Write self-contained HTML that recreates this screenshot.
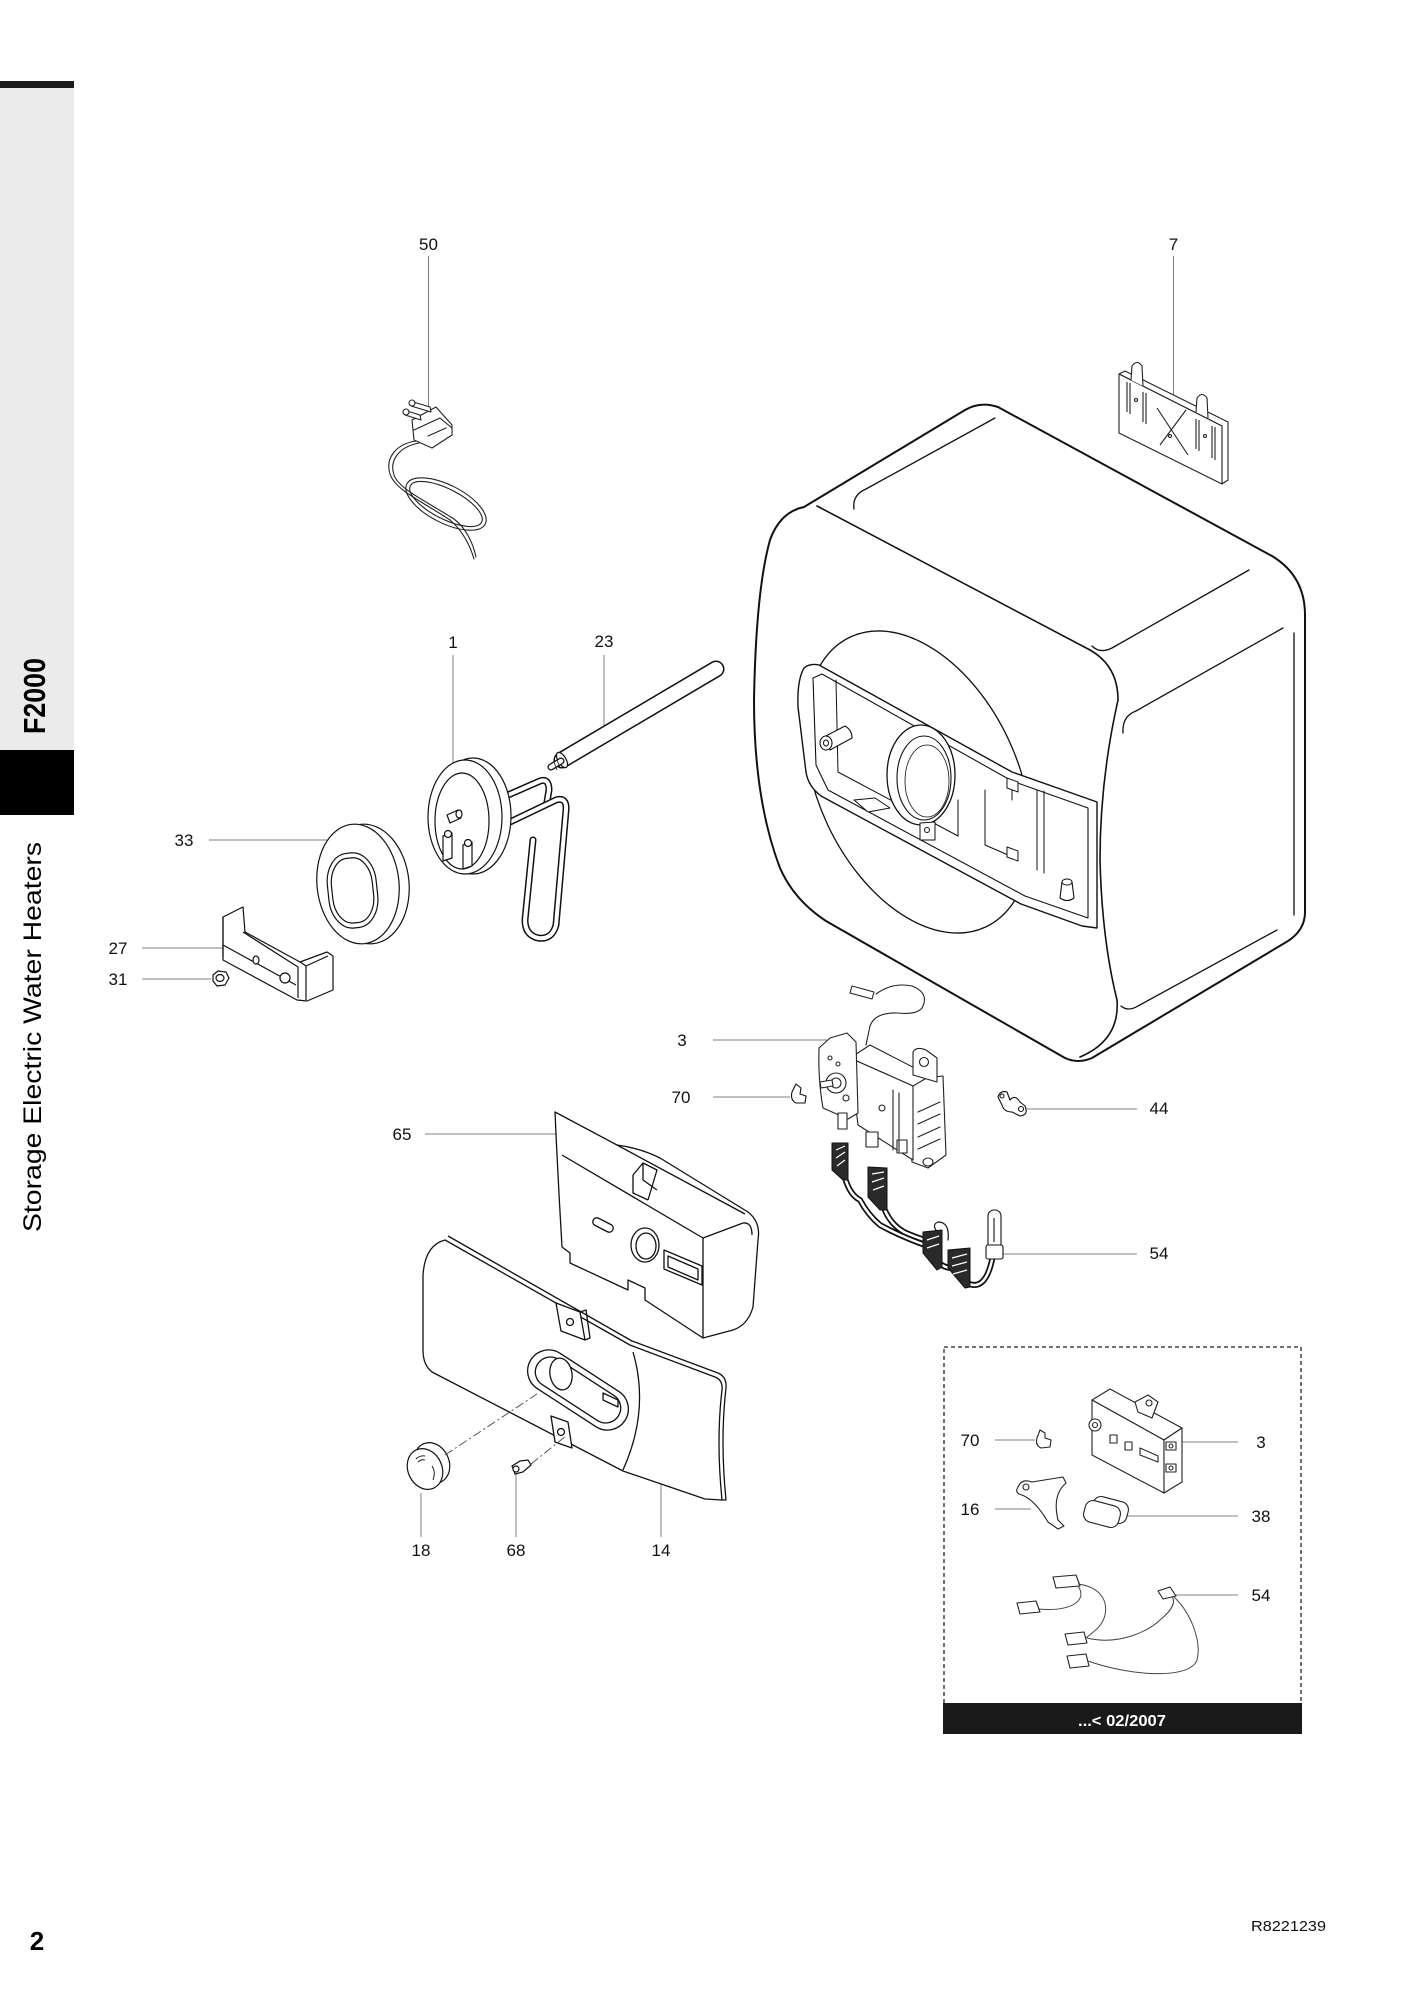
<!DOCTYPE html>
<html><head><meta charset="utf-8"><style>
html,body{margin:0;padding:0;background:#fff;}
svg{display:block}
text{font-family:"Liberation Sans",Arial,sans-serif;}
</style></head><body>
<svg width="1410" height="1994" viewBox="0 0 1410 1994" xmlns="http://www.w3.org/2000/svg">
<rect width="1410" height="1994" fill="#fff"/>

<!-- sidebar -->
<rect x="0" y="88" width="74" height="662" fill="#ebebeb"/>
<rect x="0" y="81" width="74" height="7" fill="#1a1a1a"/>
<rect x="0" y="750" width="74" height="65" fill="#000"/>
<text transform="translate(45,734) rotate(-90)" font-size="31" font-weight="bold" textLength="76" lengthAdjust="spacingAndGlyphs" fill="#000">F2000</text>
<text transform="translate(41,1232) rotate(-90)" font-size="25" textLength="390" lengthAdjust="spacingAndGlyphs" fill="#000">Storage Electric Water Heaters</text>

<!-- leader lines -->
<g stroke="#808080" stroke-width="1" fill="none">
<path d="M428.5,256V410 M1173.5,256V407 M453,655V766 M604,655V731 M209,840H333 M142,948H236 M142,979H211 M713,1040H848 M713,1097H790 M425,1134H568 M1027,1109H1137 M1002,1254H1137 M421,1493V1537 M516,1471V1537 M661,1480V1537 M995,1440H1035 M1175,1442H1238 M995,1509H1031 M1125,1516H1238 M1175,1595H1238"/>
</g>

<!-- ===== TANK ===== -->
<g stroke="#111" fill="#fff" stroke-linejoin="round" stroke-linecap="round">
<path stroke-width="2" d="M804,507 L965,410 Q980,401 998,407 L1272,556 Q1305,576 1305,615 L1305,912 Q1305,930 1288,941 L1092,1058 Q1078,1064 1065,1058 L826,921 Q794,900 780,868 Q754,800 754,700 Q756,590 770,540 Q780,512 804,507 Z"/>
<path stroke-width="1.6" fill="none" d="M817,506 L1090,650 Q1118,666 1118,700 Q1100,780 1100,860 Q1102,940 1117,1000 Q1120,1040 1080,1057"/>
<g stroke-width="1.3" fill="none">
<path d="M854,509 Q852,495 866,489 L995,418"/>
<path d="M1092,646 Q1100,654 1112,648 L1249,570"/>
<path d="M1123,733 Q1122,716 1136,711 L1283,628"/>
<path d="M1294,633 L1294,915"/>
<path d="M1121,1006 Q1128,1012 1138,1006 L1277,930"/>
</g>
<ellipse cx="918" cy="782" rx="160" ry="100" transform="rotate(65 918 782)" stroke-width="1.3" fill="none"/>
<!-- recess frame -->
<path stroke-width="1.4" d="M804,668 Q810,663 819,665 L1012,772 L1097,802 L1097,928 L1082,926 L1021,904 L821,796 Q808,786 806,772 L798,707 Q797,680 804,668 Z"/>
<path stroke-width="1.1" fill="none" d="M813,678 L822,674 L1012,781 L1088,808 L1088,918 L1025,896 L828,790 L816,765 Z"/>
<path stroke-width="1" fill="none" d="M836,680 L838,772 L958,836 M958,836 L958,800 M985,790 L985,845 L1015,858 M1037,790 L1037,870 M1044,791 L1044,873 M1012,781 L1012,800"/>
<ellipse cx="921" cy="775" rx="34" ry="50" stroke-width="1.3"/>
<ellipse cx="924" cy="778" rx="27" ry="42" stroke-width="1.1"/>
<ellipse cx="927" cy="781" rx="22" ry="36" stroke-width="0.8" fill="none"/>
<path stroke-width="1.1" d="M822,738 L845,726 Q852,730 852,738 L830,750 Z"/>
<ellipse cx="826" cy="743" rx="6" ry="7" stroke-width="1.1"/>
<ellipse cx="826" cy="743" rx="2.5" ry="3" stroke-width="1"/>
<path stroke-width="1" d="M854,800 L875,798 L890,808 L868,812 Z"/>
<path stroke-width="1" d="M920,823 L935,822 L935,840 L920,840 Z"/>
<circle cx="927" cy="830" r="2.5" stroke-width="1"/>
<path stroke-width="1" d="M1007,778 L1018,782 L1018,792 L1007,788 Z M1007,847 L1018,851 L1018,861 L1007,857 Z"/>
<path stroke-width="1.1" d="M1060,898 L1062,882 Q1067,876 1072,882 L1074,898 Q1067,903 1060,898 Z"/>
<ellipse cx="1067" cy="882" rx="5" ry="3" stroke-width="1"/>
</g>

<!-- ===== PLATE 7 ===== -->
<g stroke="#222" stroke-width="1.1" fill="#fff" stroke-linejoin="round">
<path d="M1119,374 L1125,371 L1228,422 L1228,480 L1222,484 L1222,426 Z"/>
<path d="M1119,374 L1222,426 L1222,484 L1119,433 Z"/>
<path d="M1131,380 L1132,366 Q1137,359 1142,366 L1143,386" fill="#fff"/>
<path d="M1196,412 L1197,398 Q1202,391 1207,398 L1208,418" fill="#fff"/>
<path fill="none" d="M1127,382 L1127,412 M1130,383 L1130,414 M1143,392 L1143,422 M1146,393 L1146,424 M1196,419 L1196,449 M1199,420 L1199,451 M1212,426 L1212,458 M1215,427 L1215,460 M1157,408 L1188,455 M1160,445 L1186,410"/>
<circle cx="1136" cy="400" r="1.5"/><circle cx="1205" cy="436" r="1.5"/><circle cx="1170" cy="436" r="1.5"/>
</g>

<!-- ===== PLUG 50 ===== -->
<g stroke="#222" stroke-width="1.1" fill="#fff" stroke-linejoin="round" stroke-linecap="round">
<path fill="none" d="M416,441 C396,444 385,458 390,474 C395,490 420,500 450,520 C462,530 470,545 474,559"/>
<path fill="none" d="M419,443 C399,447 389,460 394,475 C399,489 424,500 454,519 C466,528 473,543 476,557"/>
<ellipse cx="446" cy="504" rx="44" ry="19" transform="rotate(27 446 504)" fill="none"/>
<ellipse cx="446" cy="504" rx="40" ry="15" transform="rotate(27 446 504)" fill="none"/>
<path d="M412,420 L436,407 L452,425 L452,435 L432,448 L414,440 Z"/>
<path fill="none" d="M414,430 L440,418 L452,428 M428,436 L446,428"/>
<path d="M404,410 L420,415 L421,420 L405,415 Z M410,401 L430,407 L431,412 L411,406 Z"/>
<circle cx="406" cy="412" r="3"/><circle cx="412" cy="403" r="3"/>
</g>

<!-- ===== ANODE 23 ===== -->
<line x1="562" y1="760" x2="716" y2="669" stroke="#111" stroke-width="17" stroke-linecap="round"/>
<line x1="562" y1="760" x2="716" y2="669" stroke="#fff" stroke-width="14" stroke-linecap="round"/>
<ellipse cx="562" cy="760" rx="4" ry="8.5" transform="rotate(-30.7 562 760)" fill="#fff" stroke="#111" stroke-width="1.2"/>
<line x1="551" y1="767" x2="561" y2="761" stroke="#111" stroke-width="7" stroke-linecap="round"/>
<line x1="551" y1="767" x2="561" y2="761" stroke="#fff" stroke-width="4.5" stroke-linecap="round"/>
<path d="M554,762 L557,770 M557,760 L560,768" stroke="#111" stroke-width="0.8"/>

<!-- ===== ELEMENT 1 ===== -->
<g stroke="#111" stroke-width="1.2" fill="none" stroke-linejoin="round" stroke-linecap="round">
<path d="M508,795 L540,781 Q549,778 549,790 L547,802" stroke-width="7"/>
<path d="M508,795 L540,781 Q549,778 549,790 L547,802" stroke="#fff" stroke-width="4"/>
<path d="M510,822 L556,800 Q567,797 566,810 L556,925 Q552,940 538,938 Q525,935 525,920 L533,840" stroke-width="7"/>
<path d="M510,822 L556,800 Q567,797 566,810 L556,925 Q552,940 538,938 Q525,935 525,920 L533,840" stroke="#fff" stroke-width="4"/>
<ellipse cx="473" cy="816" rx="38" ry="58" fill="#fff"/>
<ellipse cx="465" cy="817" rx="37" ry="57" fill="#fff"/>
<ellipse cx="462" cy="821" rx="27" ry="48"/>
<path d="M447,815 L458,810 L461,818 L450,823 Z" fill="#fff"/>
<ellipse cx="459" cy="814" rx="3" ry="4" fill="#fff"/>
<path d="M443,836 L452,833 L452,858 L443,861 Z M463,845 L472,842 L472,866 L463,869 Z" fill="#fff"/>
<circle cx="448" cy="834" r="3.5" fill="#fff"/><circle cx="468" cy="843" r="3.5" fill="#fff"/>
</g>

<!-- ===== GASKET 33 ===== -->
<g stroke="#111" stroke-width="1.2" fill="#fff">
<ellipse cx="367" cy="884" rx="42" ry="60" transform="rotate(-6 367 884)"/>
<ellipse cx="358" cy="884" rx="41" ry="60" transform="rotate(-6 358 884)"/>
<rect x="328" y="853" width="49" height="75" rx="22" ry="30" transform="rotate(-6 352 890)"/>
<rect x="332" y="858" width="41" height="65" rx="18" ry="26" transform="rotate(-6 352 890)" fill="none"/>
</g>

<!-- ===== BRACKET 27 / NUT 31 ===== -->
<g stroke="#111" stroke-width="1.2" fill="#fff" stroke-linejoin="round">
<path d="M223,917 L243,907 L245,932 L300,962 L327,952 L333,956 L333,990 L307,1001 L297,1000 L223,960 Z"/>
<path fill="none" d="M223,917 L223,957 M243,932 L298,967 L298,998 M223,945 L296,985 M300,962 L306,966 L328,956 M306,966 L306,1000"/>
<ellipse cx="256" cy="960" rx="3" ry="4"/>
<circle cx="285" cy="978" r="5"/>
<path d="M213,975 L218,971 L226,972 L229,978 L225,985 L217,986 L213,981 Z"/>
<ellipse cx="220" cy="978" rx="4" ry="3.5"/>
</g>

<!-- ===== THERMOSTAT 3 (main) ===== -->
<g stroke="#222" stroke-width="1.1" fill="#fff" stroke-linejoin="round" stroke-linecap="round">
<path fill="none" d="M876,994 Q892,982 912,986 Q930,993 922,1008 Q916,1015 898,1013 Q875,1012 870,1026 L866,1045"/>
<path d="M852,986 L874,992 L872,999 L850,993 Z"/>
<path d="M905,1080 L943,1076 L946,1155 L928,1168 L912,1162 Z"/>
<path d="M850,1058 L870,1045 L930,1076 L913,1086 Z"/>
<path d="M850,1058 L913,1086 L913,1160 L858,1125 Z"/>
<path d="M819,1048 L830,1038 L847,1033 L856,1042 L858,1113 L848,1119 L823,1108 Q818,1080 819,1048 Z"/>
<circle cx="836" cy="1083" r="10"/>
<circle cx="836" cy="1083" r="5"/>
<path d="M820,1082 L832,1080 L833,1086 L821,1088 Z"/>
<circle cx="830" cy="1058" r="2"/><circle cx="838" cy="1064" r="2"/><circle cx="846" cy="1098" r="3"/>
<path d="M913,1052 Q916,1046 926,1050 L937,1058 L937,1082 L913,1075 Z"/>
<circle cx="924" cy="1062" r="4.5"/>
<rect x="838" y="1113" width="9" height="16"/>
<rect x="866" y="1132" width="12" height="15"/>
<rect x="897" y="1140" width="10" height="13"/>
<path fill="none" d="M918,1112 L940,1102 M918,1124 L940,1114 M918,1137 L940,1127 M918,1149 L940,1139 M893,1090 L893,1150 M899,1093 L899,1152"/>
<circle cx="882" cy="1108" r="3"/>
<ellipse cx="928" cy="1162" rx="5" ry="4"/>
</g>

<!-- harness 54 main -->
<g fill="none" stroke-linecap="round" stroke-linejoin="round">
<path d="M845,1178 Q850,1195 860,1200 Q868,1215 880,1225 Q900,1236 925,1245" stroke="#111" stroke-width="6"/>
<path d="M845,1178 Q850,1195 860,1200 Q868,1215 880,1225 Q900,1236 925,1245" stroke="#fff" stroke-width="2.5"/>
<path d="M884,1208 Q890,1224 904,1232 Q915,1237 925,1240" stroke="#111" stroke-width="6"/>
<path d="M884,1208 Q890,1224 904,1232 Q915,1237 925,1240" stroke="#fff" stroke-width="2.5"/>
<path d="M938,1262 Q944,1268 952,1268 M967,1283 Q985,1292 992,1260" stroke="#111" stroke-width="6"/>
<path d="M938,1262 Q944,1268 952,1268 M967,1283 Q985,1292 992,1260" stroke="#fff" stroke-width="2.5"/>
<path d="M940,1235 Q930,1225 938,1222 Q950,1222 948,1240" stroke="#111" stroke-width="1.2"/>
</g>
<g stroke="#111" stroke-width="1" fill="#2a2a2a" stroke-linejoin="round">
<path d="M832,1143 L848,1143 L848,1180 L843,1180 L832,1170 Z"/>
<path d="M868,1167 L887,1168 L887,1210 L880,1210 L868,1197 Z"/>
<path d="M923,1232 L942,1230 L942,1267 L937,1270 L923,1253 Z"/>
<path d="M948,1250 L970,1248 L970,1287 L965,1288 L948,1268 Z"/>
</g>
<g stroke="#fff" stroke-width="1.2" fill="none">
<path d="M836,1150 L845,1146 M836,1158 L845,1152 M837,1166 L845,1160 M872,1174 L884,1172 M872,1182 L884,1178 M873,1190 L884,1186 M927,1240 L939,1236 M927,1248 L939,1244 M952,1258 L967,1254 M952,1266 L967,1262 M953,1274 L967,1270"/>
</g>
<g stroke="#111" stroke-width="1.1" fill="#fff">
<rect x="988" y="1210" width="13" height="40" rx="6"/>
<rect x="986" y="1245" width="17" height="14" rx="2"/>
<path d="M994,1218 L994,1242" fill="none"/>
</g>

<!-- clip 70, clip 44 -->
<g stroke="#111" stroke-width="1.1" fill="#fff" stroke-linejoin="round">
<path d="M792,1092 L796,1084 L801,1088 L800,1094 L806,1096 L805,1103 L796,1103 Q790,1100 792,1092 Z"/>
<path d="M998,1097 Q1000,1090 1007,1092 L1010,1100 Q1015,1094 1020,1102 L1025,1106 Q1029,1115 1020,1116 L1012,1112 Q1004,1112 1002,1105 Z"/>
<circle cx="1021" cy="1109" r="2.5"/><circle cx="1002" cy="1096" r="2"/>
</g>

<!-- ===== HOUSING 65 ===== -->
<g stroke="#111" stroke-width="1.3" fill="#fff" stroke-linejoin="round">
<path d="M555,1112 L617,1145 Q640,1148 660,1158 L748,1212 Q761,1222 758,1240 L753,1307 Q748,1325 733,1330 L703,1338 L645,1300 L645,1288 L628,1280 L628,1290 L570,1263 L570,1253 L562,1247 Q558,1180 555,1112 Z"/>
<path fill="none" d="M562,1155 L703,1238 L703,1338 M703,1238 L743,1223 Q752,1222 752,1235 M617,1145 L745,1214"/>
<path fill="none" d="M633,1175 L643,1163 L657,1170 L648,1200 M633,1175 L633,1193 L648,1200 M643,1163 L643,1180 L657,1190"/>
<rect x="592" y="1221" width="22" height="8" rx="4" transform="rotate(27 603 1225)"/>
<ellipse cx="645" cy="1245" rx="14" ry="17"/>
<ellipse cx="646" cy="1246" rx="10" ry="13"/>
<path d="M664,1250 L702,1266 L702,1285 L664,1269 Z"/>
<path d="M668,1256 L698,1269 L698,1280 L668,1267 Z" fill="none"/>
</g>

<!-- ===== PANEL 14 ===== -->
<g stroke="#111" stroke-width="1.3" fill="#fff" stroke-linejoin="round">
<path d="M445,1240 L630,1345 L715,1377 Q723,1380 722,1390 Q716,1440 722,1500 L705,1499 L623,1471 L432,1372 Q423,1365 423,1350 L423,1275 Q425,1245 445,1240 Z"/>
<path fill="none" d="M448,1236 L632,1341 L718,1373 Q727,1377 726,1388 Q720,1440 726,1500 L722,1500"/>
<path fill="none" d="M633,1352 Q650,1410 623,1470"/>
<rect x="522" y="1369" width="112" height="42" rx="21" transform="rotate(33 578 1390)"/>
<rect x="530" y="1375" width="96" height="30" rx="15" transform="rotate(33 578 1390)" fill="none"/>
<ellipse cx="561" cy="1374" rx="11" ry="16" transform="rotate(-10 561 1374)"/>
<path d="M603,1393 L618,1400 L618,1407 L603,1400 Z"/>
<path d="M556,1303 L580,1312 L585,1340 L561,1331 Z"/>
<path d="M580,1312 L586,1310 L590,1338 L585,1340" fill="none"/>
<circle cx="570" cy="1322" r="3.5"/>
<path d="M551,1416 L568,1422 L572,1448 L555,1442 Z"/>
<circle cx="561" cy="1432" r="3.5"/>
</g>

<!-- knob 18, screw 68, dashed -->
<g stroke="#111" stroke-width="1.2" fill="#fff">
<ellipse cx="432" cy="1463" rx="17" ry="21" transform="rotate(-25 432 1463)"/>
<ellipse cx="425" cy="1469" rx="17" ry="21" transform="rotate(-25 425 1469)"/>
<path d="M416,1459 Q420,1455 425,1456 M418,1462 Q421,1459 425,1460 M432,1466 Q436,1472 433,1480" fill="none" stroke-width="0.9"/>
<path d="M512,1466 L520,1461 L528,1460 L531,1465 L523,1472 L515,1474 Z"/>
<circle cx="516" cy="1469" r="3"/>
</g>
<path d="M445,1455 L537,1394 M531,1464 L566,1436" stroke="#555" stroke-width="1" stroke-dasharray="9 3 2 3" fill="none"/>

<!-- ===== INSET ===== -->
<rect x="944" y="1347" width="357" height="360" fill="none" stroke="#222" stroke-width="1.3" stroke-dasharray="4 3"/>
<rect x="943" y="1703" width="359" height="31" fill="#1a1a1a"/>
<text x="1122" y="1726" font-size="16" font-weight="bold" fill="#fff" text-anchor="middle" textLength="88" lengthAdjust="spacingAndGlyphs">...&lt; 02/2007</text>

<g stroke="#222" stroke-width="1.1" fill="#fff" stroke-linejoin="round">
<path d="M1092,1400 L1110,1389 L1182,1428 L1164,1440 Z"/>
<path d="M1092,1400 L1164,1440 L1164,1493 L1092,1455 Z"/>
<path d="M1164,1440 L1182,1428 L1182,1482 L1164,1493 Z"/>
<path d="M1135,1402 L1148,1395 L1158,1402 L1152,1418 L1138,1412 Z"/>
<circle cx="1149" cy="1403" r="3"/>
<circle cx="1095" cy="1425" r="6"/><circle cx="1095" cy="1425" r="2.5"/>
<rect x="1110" y="1435" width="7" height="8"/>
<rect x="1125" y="1442" width="7" height="8"/>
<path d="M1140,1448 L1158,1456 L1158,1462 L1140,1455 Z"/>
<rect x="1166" y="1442" width="10" height="8"/>
<rect x="1166" y="1464" width="10" height="8"/>
<circle cx="1171" cy="1446" r="2"/><circle cx="1171" cy="1468" r="2"/>
<path d="M1037,1438 L1040,1430 L1045,1433 L1045,1438 L1051,1440 L1050,1447 L1041,1448 Q1035,1445 1037,1438 Z"/>
<path d="M1018,1487 Q1022,1478 1032,1482 L1063,1477 L1066,1483 Q1052,1495 1058,1520 L1064,1526 L1058,1529 L1048,1522 Q1035,1500 1022,1495 Q1014,1493 1018,1487 Z"/>
<circle cx="1026" cy="1487" r="3"/>
<rect x="1092" y="1499" width="36" height="22" rx="8" transform="rotate(15 1110 1510)"/>
<rect x="1084" y="1503" width="36" height="22" rx="8" transform="rotate(15 1102 1514)"/>
<path d="M1017,1603 L1036,1601 L1040,1612 L1020,1614 Z"/>
<path d="M1053,1577 L1076,1575 L1080,1586 L1056,1588 Z"/>
<path d="M1065,1634 L1084,1632 L1087,1643 L1068,1645 Z"/>
<path d="M1067,1656 L1086,1654 L1089,1666 L1070,1668 Z"/>
<path d="M1158,1591 L1170,1587 L1176,1596 L1163,1599 Z"/>
</g>
<g stroke="#444" stroke-width="1" fill="none">
<path d="M1038,1609 C1072,1612 1088,1600 1078,1586"/>
<path d="M1078,1584 C1100,1587 1108,1600 1105,1615 C1102,1628 1090,1634 1086,1638"/>
<path d="M1087,1638 C1120,1646 1150,1630 1160,1620 C1172,1610 1176,1602 1172,1597"/>
<path d="M1088,1661 C1130,1676 1190,1680 1197,1660 C1202,1640 1190,1612 1174,1597"/>
</g>

<!-- ===== LABELS ===== -->
<g font-size="17" fill="#111" text-anchor="middle">
<text x="428.5" y="250">50</text>
<text x="1173.5" y="250">7</text>
<text x="453" y="648">1</text>
<text x="604" y="647">23</text>
<text x="184" y="846">33</text>
<text x="118" y="954">27</text>
<text x="118" y="985">31</text>
<text x="682" y="1046">3</text>
<text x="681" y="1103">70</text>
<text x="402" y="1140">65</text>
<text x="1159" y="1114">44</text>
<text x="1159" y="1259">54</text>
<text x="421" y="1556">18</text>
<text x="516" y="1556">68</text>
<text x="661" y="1556">14</text>
<text x="970" y="1446">70</text>
<text x="1261" y="1448">3</text>
<text x="970" y="1515">16</text>
<text x="1261" y="1522">38</text>
<text x="1261" y="1601">54</text>
</g>

<text x="37" y="1950" font-size="26" font-weight="bold" text-anchor="middle" fill="#000">2</text>
<text x="1251" y="1931" font-size="15" fill="#111" textLength="75" lengthAdjust="spacingAndGlyphs">R8221239</text>
</svg>
</body></html>
